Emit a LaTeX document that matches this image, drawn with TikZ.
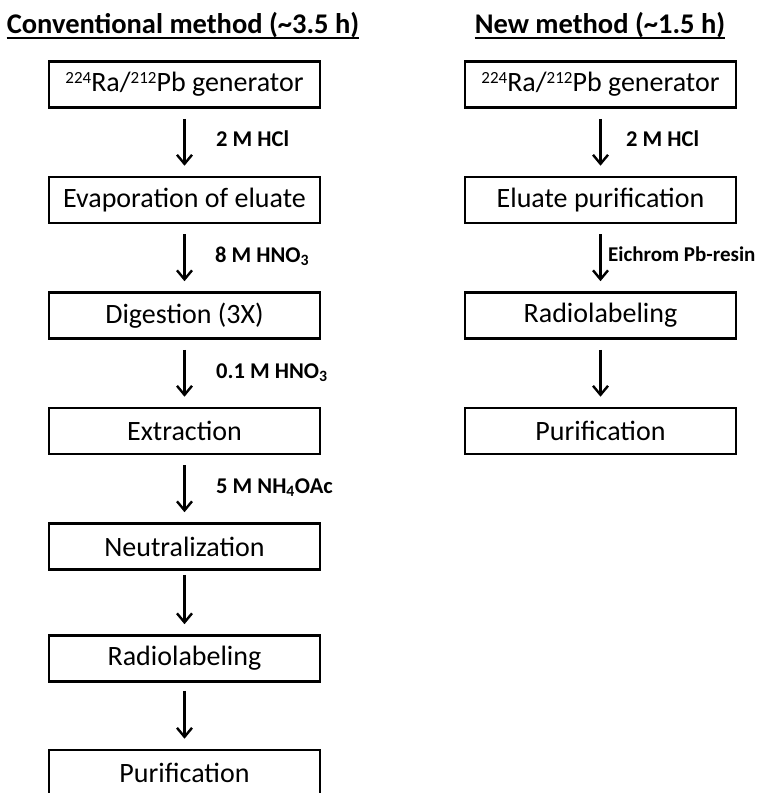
\documentclass[tikz,border=0pt]{standalone}
\usepackage{fontspec}
\setmainfont{Carlito}
\usetikzlibrary{arrows.meta}

\newcommand{\isotope}[1]{\raisebox{8.5pt}{\fontsize{17}{17}\selectfont #1}}

\tikzset{
  stepbox/.style={draw, line width=2.6pt, minimum width=271pt, minimum height=46pt, inner sep=0pt, font=\fontsize{28}{32}\selectfont},
  flow/.style={line width=2.4pt, -{Straight Barb[length=9pt,width=15pt,line width=2.4pt]}, shorten <=10pt, shorten >=10pt},
  reagent/.style={anchor=base west, inner sep=0pt, font=\fontsize{22.5}{26}\selectfont\bfseries},
  heading/.style={anchor=base, inner sep=0pt, font=\fontsize{28.5}{32}\selectfont\bfseries}
}

\begin{document}
\begin{tikzpicture}[x=1pt,y=-1pt]
    \useasboundingbox (0,0) rectangle (763,793);

    \node[heading] (hconv) at (183,33) {Conventional method (\textasciitilde3.5 h)};
    \draw[line width=1.6pt] ([yshift=-5pt]hconv.base west) -- ([yshift=-5pt]hconv.base east);
    \node[heading] (hnew) at (600,33) {New method (\textasciitilde1.5 h)};
    \draw[line width=1.6pt] ([yshift=-5pt]hnew.base west) -- ([yshift=-5pt]hnew.base east);

    \node[stepbox] (conv1) at (184.5,84.5) {\isotope{224}Ra/\isotope{212}Pb generator};
    \node[stepbox] (conv2) at (184.5,200) {Evaporation of eluate};
    \node[stepbox] (conv3) at (184.5,315.5) {Digestion (3X)};
    \node[stepbox] (conv4) at (184.5,431) {Extraction};
    \node[stepbox] (conv5) at (184.5,546.5) {Neutralization};
    \node[stepbox] (conv6) at (184.5,658.5) {Radiolabeling};
    \node[stepbox] (conv7) at (184.5,773) {Purification};

    \draw[flow] (conv1) -- (conv2);
    \draw[flow] (conv2) -- (conv3);
    \draw[flow] (conv3) -- (conv4);
    \draw[flow] (conv4) -- (conv5);
    \draw[flow, shorten <=4pt] (conv5) -- (conv6);
    \draw[flow, shorten <=8pt] (conv6) -- (conv7);

    \node[reagent] (rc1) at (216,146.5) {2 M HCl};
    \node[reagent] (rc2) at (215,262.5) {8 M HNO\textsubscript{3}};
    \node[reagent] (rc3) at (216,378) {0.1 M HNO\textsubscript{3}};
    \node[reagent] (rc4) at (216,493) {5 M NH\textsubscript{4}OAc};

    \node[stepbox] (new1) at (600.5,84.5) {\isotope{224}Ra/\isotope{212}Pb generator};
    \node[stepbox] (new2) at (600.5,200) {Eluate purification};
    \node[stepbox] (new3) at (600.5,315.5) {Radiolabeling};
    \node[stepbox] (new4) at (600.5,431) {Purification};

    \draw[flow] (new1) -- (new2);
    \draw[flow] (new2) -- (new3);
    \draw[flow] (new3) -- (new4);

    \node[reagent] (rn1) at (626,146.5) {2 M HCl};
    \node[reagent, font=\fontsize{21}{26}\selectfont\bfseries] (rn2) at (608,261.5) {Eichrom Pb-resin};
\end{tikzpicture}
\end{document}
